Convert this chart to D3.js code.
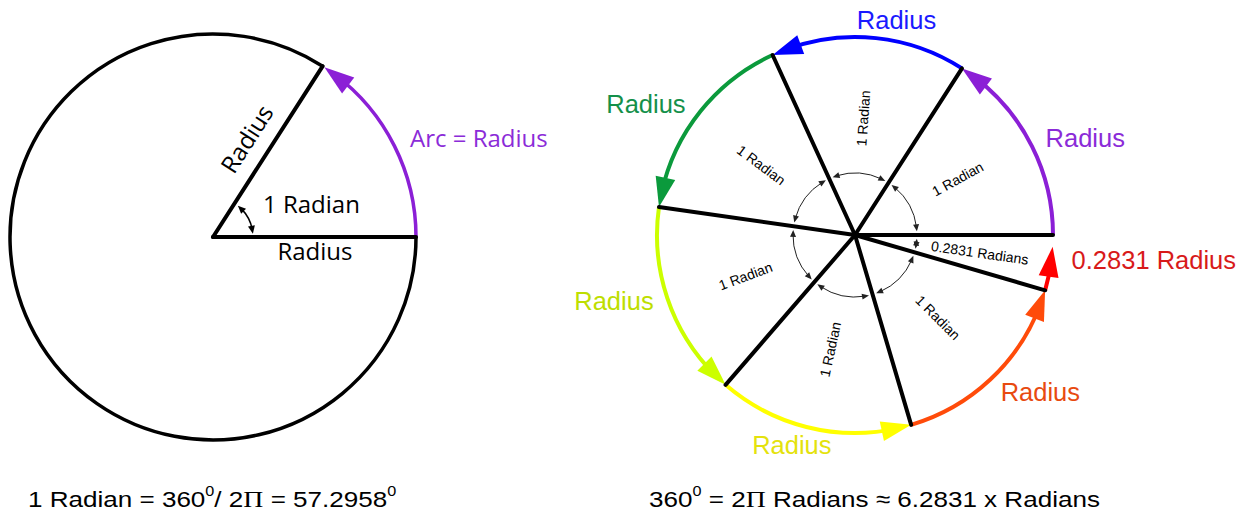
<!DOCTYPE html>
<html>
<head>
<meta charset="utf-8">
<script src="https://cdn.jsdelivr.net/npm/d3@7"></script>
<style>
  body { margin: 0; background: #fff; }
  svg { display: block; }
</style>
</head>
<body>
<script>
// Values
const TAU = 2 * Math.PI;
const leftSector = [0, 1];                                   // one radian, left circle
const sectorRadians = [1, 1, 1, 1, 1, 1, TAU - 6];           // right circle split
const sectorLabels = ["1 Radian", "1 Radian", "1 Radian", "1 Radian", "1 Radian", "1 Radian", "0.2831 Radians"];
const arcLabels = ["Radius", "Radius", "Radius", "Radius", "Radius", "Radius", "0.2831 Radius"];
const leftLabels = ["Radius", "1 Radian", "Radius", "Arc = Radius"];

// Styles
const arcColors = ["#8b1fd6", "#0000ff", "#0b9a3c", "#ccff00", "#ffff00", "#ff4b0a", "#ff0000"];
const arcTextColors = ["#8b2bd8", "#1a1aff", "#14904a", "#bede00", "#e4e20c", "#e84a10", "#d81a1a"];

const W = 1254, H = 516;
const svg = d3.select("body").append("svg")
  .attr("width", W).attr("height", H);

// radians -> screen angle (counter-clockwise, y down)
const ang = d3.scaleLinear().domain([0, TAU]).range([0, -TAU]);

function pt(c, r, t) {
  return [c[0] + r * Math.cos(ang(t)), c[1] + r * Math.sin(ang(t))];
}

function arcPath(c, r, t0, t1) {
  const p = d3.path();
  const s = pt(c, r, t0);
  p.moveTo(s[0], s[1]);
  p.arc(c[0], c[1], r, ang(t0), ang(t1), t1 > t0);
  return p.toString();
}

// triangle whose tip sits on the circle at t, pointing along the travel direction dir
function arrowHead(g, c, r, t, len, half, color, dir) {
  const tip = pt(c, r, t);
  const base = pt(c, r, t - dir * len / r);
  const dx = tip[0] - base[0], dy = tip[1] - base[1];
  const L = Math.hypot(dx, dy);
  const nx = -dy / L, ny = dx / L;
  g.append("polygon")
    .attr("points", [tip, [base[0] + nx * half, base[1] + ny * half], [base[0] - nx * half, base[1] - ny * half]]
      .map(p => p.join(",")).join(" "))
    .attr("fill", color);
}

function doubleArrow(g, c, r, t0, t1, len, half, color, sw) {
  g.append("path")
    .attr("d", arcPath(c, r, t0 + len * 0.6 / r, t1 - len * 0.6 / r))
    .attr("fill", "none").attr("stroke", color).attr("stroke-width", sw);
  arrowHead(g, c, r, t1, len, half, color, 1);
  arrowHead(g, c, r, t0, len, half, color, -1);
}

// ---------------- Left circle ----------------
const cL = [213, 237], RL = 203;
const gL = svg.append("g");

gL.append("path")
  .attr("d", arcPath(cL, RL, leftSector[1], TAU))
  .attr("fill", "none").attr("stroke", "#000").attr("stroke-width", 3.5);

gL.append("path")
  .attr("d", arcPath(cL, RL, leftSector[0], leftSector[1] - 14 / RL))
  .attr("fill", "none").attr("stroke", arcColors[0]).attr("stroke-width", 3.5);
arrowHead(gL, cL, RL, leftSector[1] - 0.01, 30, 10, arcColors[0], 1);

leftSector.forEach(t => {
  const e = pt(cL, RL, t);
  gL.append("line")
    .attr("x1", cL[0]).attr("y1", cL[1]).attr("x2", e[0]).attr("y2", e[1])
    .attr("stroke", "#000").attr("stroke-width", 4).attr("stroke-linecap", "round");
});

doubleArrow(gL, cL, 40, 0.08, 0.9, 8, 3.5, "#000", 1.5);

const leftFont = "'Open Sans', 'Noto Sans', sans-serif";
const slant = -leftSector[1] * 180 / Math.PI;
gL.append("text")
  .attr("transform", `translate(247,139) rotate(${slant})`)
  .attr("text-anchor", "middle").attr("dy", "0.36em")
  .attr("font-family", leftFont).attr("font-size", 24).attr("fill", "#000")
  .text(leftLabels[0]);
gL.append("text")
  .attr("x", 263).attr("y", 213)
  .attr("font-family", leftFont).attr("font-size", 24).attr("fill", "#000")
  .text(leftLabels[1]);
gL.append("text")
  .attr("x", 315).attr("y", 260).attr("text-anchor", "middle")
  .attr("font-family", leftFont).attr("font-size", 24).attr("fill", "#000")
  .text(leftLabels[2]);
gL.append("text")
  .attr("x", 410).attr("y", 147)
  .attr("font-family", leftFont).attr("font-size", 24).attr("fill", arcTextColors[0])
  .text(leftLabels[3]);

// ---------------- Right circle ----------------
const cR = [855, 235], RR = 198;
const gR = svg.append("g");
const bounds = d3.cumsum([0].concat(sectorRadians));   // 0,1,...,6,2pi
const sectors = sectorRadians.map((d, i) => ({ t0: bounds[i], t1: bounds[i + 1], i }));

// coloured arcs with arrowheads at their ends
sectors.forEach(s => {
  const last = s.i === sectors.length - 1;
  const tipT = last ? s.t1 - 0.06 : s.t1;
  gR.append("path")
    .attr("d", arcPath(cR, RR, s.t0, tipT - 14 / RR))
    .attr("fill", "none").attr("stroke", arcColors[s.i]).attr("stroke-width", 4);
  arrowHead(gR, cR, RR, tipT, 30, 10, arcColors[s.i], 1);
});

// radii
sectors.forEach(s => {
  const e = pt(cR, RR, s.t0);
  gR.append("line")
    .attr("x1", cR[0]).attr("y1", cR[1]).attr("x2", e[0]).attr("y2", e[1])
    .attr("stroke", "#000").attr("stroke-width", 4).attr("stroke-linecap", "round");
});

// small double arrows around the centre
sectors.forEach(s => {
  doubleArrow(gR, cR, 62, s.t0 + 0.06, s.t1 - 0.06, 7, 3, "#222", 1);
});

// sector labels, written along the radius
const rightFont = "'Liberation Sans', Arial, sans-serif";
const sectorLabelR = [117, 117, 117, 117, 117, 117, 126];
sectors.forEach(s => {
  const m = (s.t0 + s.t1) / 2;
  const p = pt(cR, sectorLabelR[s.i], m);
  let rot = -m * 180 / Math.PI;
  if (Math.cos(m) < 0) rot += 180;
  gR.append("text")
    .attr("transform", `translate(${p[0]},${p[1]}) rotate(${rot})`)
    .attr("text-anchor", "middle").attr("dy", "0.36em")
    .attr("font-family", rightFont).attr("font-size", 14).attr("fill", "#000")
    .text(sectorLabels[s.i]);
});

// arc labels (polar placement around the centre)
const arcLabelPolar = [[0.40, 250], [1.38, 219], [2.58, 247], [3.41, 250], [4.42, 219], [5.58, 243], [6.17, 218]];
sectors.forEach(s => {
  const p = pt(cR, arcLabelPolar[s.i][1], arcLabelPolar[s.i][0]);
  const last = s.i === sectors.length - 1;
  gR.append("text")
    .attr("x", p[0]).attr("y", p[1]).attr("dy", "0.36em")
    .attr("text-anchor", last ? "start" : "middle")
    .attr("font-family", rightFont).attr("font-size", 25.5)
    .attr("fill", arcTextColors[s.i])
    .text(arcLabels[s.i]);
});

// ---------------- Formulas ----------------
function formula(x, y, parts) {
  const t = svg.append("text")
    .attr("transform", `translate(${x},${y}) scale(1.158,1)`)
    .attr("font-family", rightFont).attr("font-size", 22.5).attr("fill", "#000");
  parts.forEach(p => {
    const ts = t.append("tspan").text(p.s);
    if (p.sup) ts.attr("font-size", 14).attr("dy", -11);
    if (p.after) ts.attr("dy", 11);
    if (p.serif) ts.attr("font-family", "'Liberation Serif', 'Times New Roman', serif").attr("font-size", 24);
  });
}

formula(28, 507, [
  { s: "1 Radian = 360" }, { s: "0", sup: true }, { s: "/ 2", after: true },
  { s: "\u03A0", serif: true }, { s: " = 57.2958" }, { s: "0", sup: true }
]);
formula(649, 507, [
  { s: "360" }, { s: "0", sup: true }, { s: " = 2", after: true },
  { s: "\u03A0", serif: true }, { s: " Radians \u2248 6.2831 x Radians" }
]);
</script>
</body>
</html>
